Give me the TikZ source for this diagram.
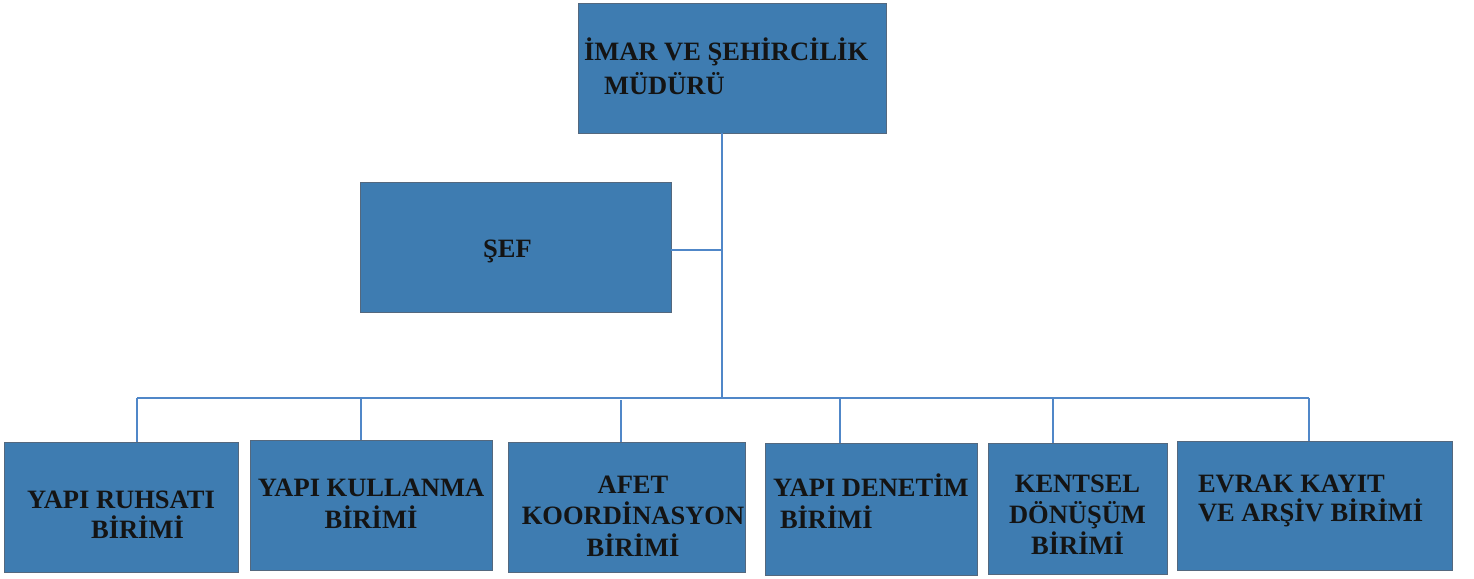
\documentclass[tikz,border=0pt]{standalone}
\usepackage{fontspec}
\setmainfont{Liberation Serif}
\definecolor{boxfill}{RGB}{62,124,177}
\definecolor{boxedge}{RGB}{84,104,126}
\definecolor{linkblue}{RGB}{80,135,200}
% centred text block: first baseline raised by #1 above box centre
\newcommand{\ctext}[2]{\raisebox{#1}[0pt][0pt]{\makebox[0pt][c]{\begin{tabular}[t]{@{}c@{}}#2\end{tabular}}}}
% left-aligned text block starting #1 from box centre
\newcommand{\ltext}[3]{\raisebox{#2}[0pt][0pt]{\makebox[0pt][l]{\hspace*{#1}\begin{tabular}[t]{@{}l@{}}#3\end{tabular}}}}
\begin{document}
\begin{tikzpicture}[x=1pt,y=-1pt,
  box/.style={rectangle,fill=boxfill,draw=boxedge,line width=0.9pt,inner sep=0pt,outer sep=0pt,
    font=\bfseries\fontsize{26.5}{30}\selectfont,text=black!92},
  link/.style={draw=linkblue,line width=1.2pt}]
\useasboundingbox[fill=white] (0,0) rectangle (1474,578);

\node[box,minimum width=308,minimum height=130] (top) at (732,68)
  {\ltext{-148pt}{8pt}{İMAR VE ŞEHİRCİLİK\\[3pt]\hspace*{20pt}MÜDÜRÜ}};
\node[box,minimum width=311,minimum height=130] (sef) at (515.5,247) {\ctext{-10pt}{\hspace*{-16pt}ŞEF}};

\node[box,minimum width=234,minimum height=130] (b1) at (121,507)
  {\ctext{-1pt}{YAPI RUHSATI\\[-1pt]\hspace*{33pt}BİRİMİ}};
\node[box,minimum width=242,minimum height=130] (b2) at (371,505)
  {\ctext{9pt}{YAPI KULLANMA\\[1pt]BİRİMİ}};
\node[box,minimum width=237,minimum height=130] (b3) at (626.5,507)
  {\ctext{14pt}{\hspace*{13pt}AFET\\\hspace*{13pt}KOORDİNASYON\\\hspace*{13pt}BİRİMİ}};
\node[box,minimum width=212,minimum height=132] (b4) at (871,509)
  {\ltext{-98pt}{13pt}{YAPI DENETİM\\[1pt]\hspace*{7pt}BİRİMİ}};
\node[box,minimum width=179,minimum height=131] (b5) at (1077.5,508.5)
  {\ctext{16.5pt}{KENTSEL\\DÖNÜŞÜM\\BİRİMİ}};
\node[box,minimum width=275,minimum height=129] (b6) at (1314.5,505.5)
  {\ltext{-116.5pt}{13.5pt}{EVRAK KAYIT\\[-2pt]VE ARŞİV BİRİMİ}};

\coordinate (t) at (722,398);
\coordinate (bl) at (137,398);
\coordinate (br) at (1309,398);
\coordinate (d1) at (137,398);
\coordinate (d2) at (361,398);
\coordinate (d3) at (621,400);
\coordinate (d4) at (840,398);
\coordinate (d5) at (1053,398);
\coordinate (d6) at (1309,398);

\draw[link] (top.south -| t) -- (t);
\draw[link] (sef.east) ++(0,3) -- ([yshift=-3pt]sef.east -| t);
\draw[link] (bl) -- (br);
\foreach \i in {1,...,6} {\draw[link] (d\i) -- (d\i |- b\i.north);}
\end{tikzpicture}
\end{document}
